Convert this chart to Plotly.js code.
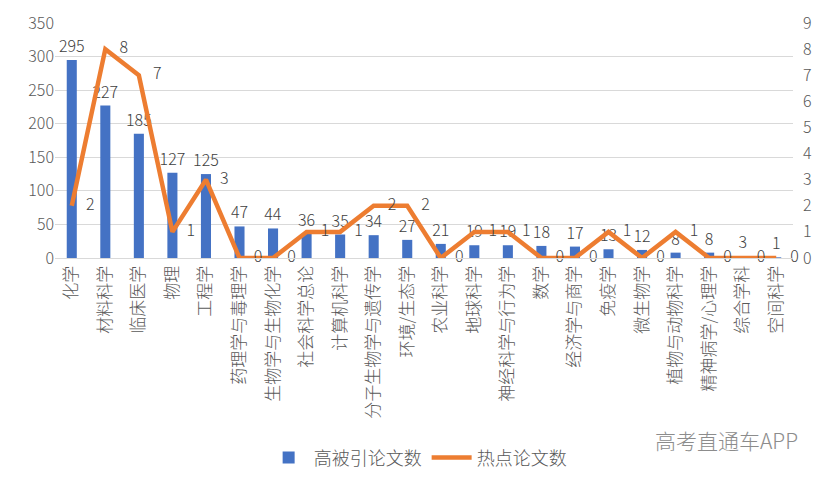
<!DOCTYPE html>
<html>
<head>
<meta charset="utf-8">
<script src="https://cdn.plot.ly/plotly-3.0.1.min.js"></script>
<style>html,body{margin:0;padding:0;background:#fff;}#chart{width:827px;height:483px;}</style>
</head>
<body>
<div id="chart"></div>
<script>
const categories = ["化学","材料科学","临床医学","物理","工程学","药理学与毒理学","生物学与生物化学","社会科学总论","计算机科学","分子生物学与遗传学","环境/生态学","农业科学","地球科学","神经科学与行为学","数学","经济学与商学","免疫学","微生物学","植物与动物科学","精神病学/心理学","综合学科","空间科学"];
const highlyCited = [295,227,185,127,125,47,44,36,35,34,27,21,19,19,18,17,13,12,8,8,3,1];
const hotPapers = [2,8,7,1,3,0,0,1,1,2,2,0,1,1,0,0,1,0,1,0,0,0];
const leftTicks = [0,50,100,150,200,250,300,350];
const rightTicks = [0,1,2,3,4,5,6,7,8,9];

const FONT = '"Noto Sans CJK SC", "Noto Sans", sans-serif';
const labelColor = '#404040';
const axisColor = '#595959';
const W = 300;

const traces = [
  {
    type: 'bar',
    name: '高被引论文数',
    x: categories,
    y: highlyCited,
    marker: {color: '#4472C4'},
    text: highlyCited.map(String),
    textposition: 'outside',
    constraintext: 'none',
    textfont: {family: FONT, size: 16, color: labelColor, weight: W},
    cliponaxis: false,
    hoverinfo: 'x+y'
  },
  {
    type: 'scatter',
    mode: 'lines+text',
    name: '热点论文数',
    x: categories,
    y: hotPapers,
    yaxis: 'y2',
    line: {color: '#ED7D31', width: 4.5},
    text: hotPapers.map(v => '\u00a0\u00a0\u00a0\u00a0' + v),
    textposition: 'middle right',
    textfont: {family: FONT, size: 16, color: labelColor, weight: W},
    cliponaxis: false
  }
];

const layout = {
  width: 827,
  height: 483,
  margin: {l: 55, r: 34, t: 23, b: 225},
  paper_bgcolor: '#ffffff',
  plot_bgcolor: '#ffffff',
  font: {family: FONT, color: axisColor, weight: W},
  bargap: 0.7,
  showlegend: true,
  legend: {
    orientation: 'h',
    xref: 'container', yref: 'container',
    x: 0.505, xanchor: 'center',
    y: 0.052, yanchor: 'middle',
    font: {family: FONT, size: 18, color: axisColor, weight: W},
    itemwidth: 40
  },
  xaxis: {
    type: 'category',
    range: [-0.5, categories.length - 0.5],
    tickangle: -90,
    tickfont: {family: FONT, size: 17, color: axisColor, weight: W},
    showgrid: false,
    showline: true,
    linecolor: '#d9d9d9',
    linewidth: 1,
    ticks: '',
    automargin: false
  },
  yaxis: {
    range: [0, 350],
    tickvals: leftTicks,
    tickfont: {family: FONT, size: 16, color: axisColor, weight: W},
    showgrid: true,
    gridcolor: '#d9d9d9',
    gridwidth: 1,
    zeroline: false,
    showline: false,
    ticks: '',
    automargin: false
  },
  yaxis2: {
    overlaying: 'y',
    side: 'right',
    range: [0, 9],
    tickvals: rightTicks,
    tickfont: {family: FONT, size: 16, color: axisColor, weight: W},
    ticklabelstandoff: 9,
    showgrid: false,
    zeroline: false,
    showline: false,
    ticks: '',
    automargin: false
  },
  annotations: [
    {
      text: '高考直通车APP',
      xref: 'paper', yref: 'paper',
      x: 1.01, xanchor: 'right',
      y: -0.774, yanchor: 'middle',
      showarrow: false,
      font: {family: FONT, size: 21, color: '#8c8c8c', weight: W}
    }
  ]
};

Plotly.newPlot('chart', traces, layout, {displayModeBar: false, staticPlot: true});
</script>
</body>
</html>
